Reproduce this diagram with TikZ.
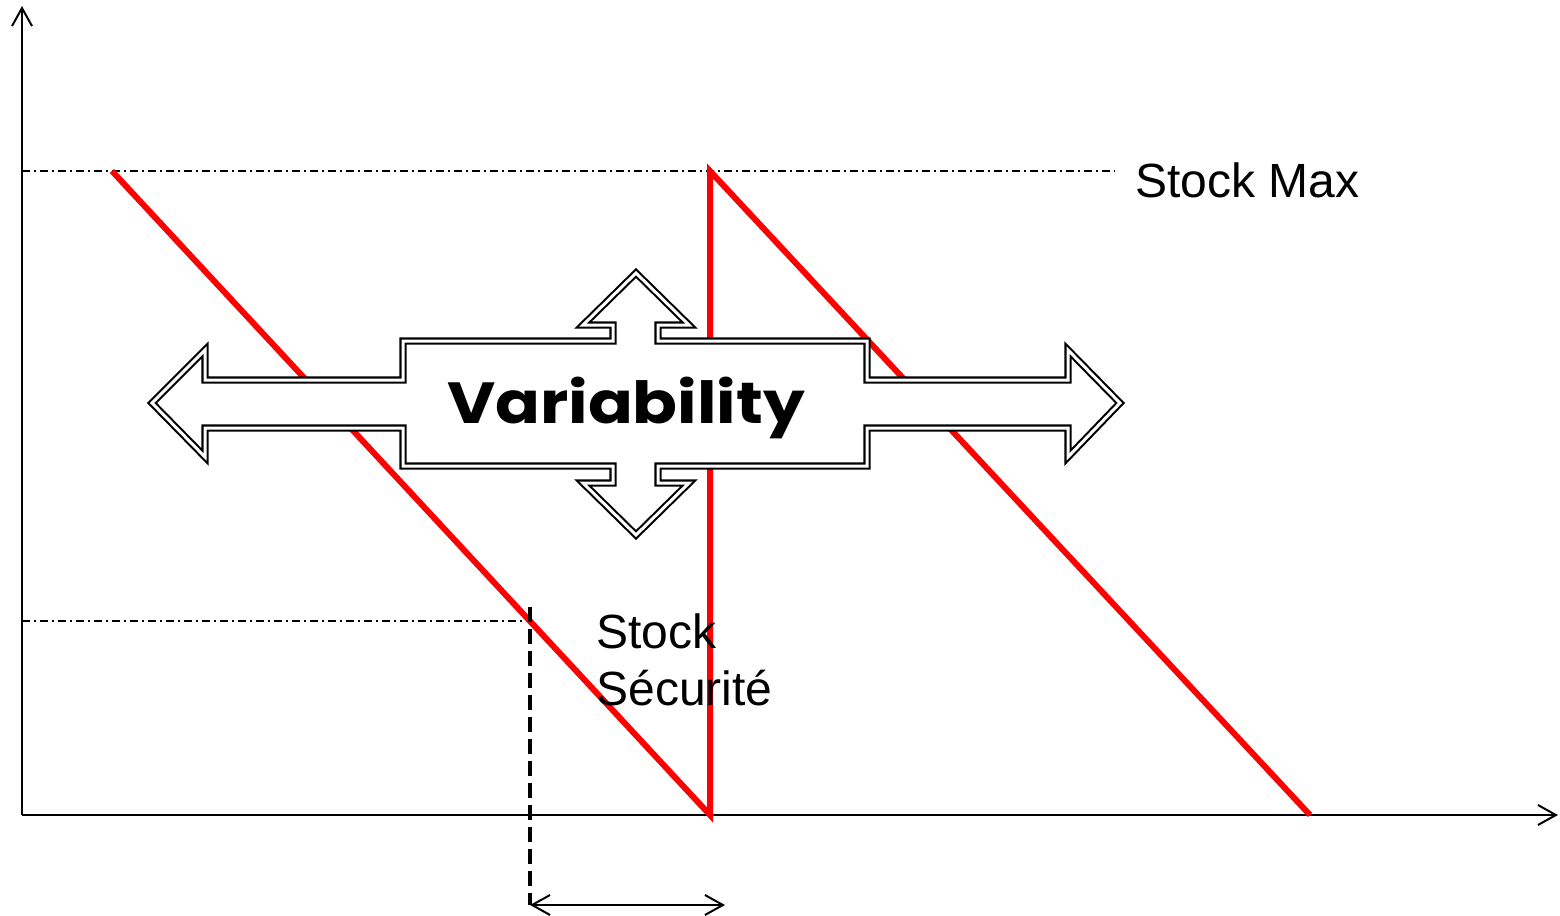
\documentclass[tikz,border=0pt]{standalone}
\usepackage{fontspec}
\setmainfont{Liberation Sans}
\newfontfamily\varfont{Poppins}
\usetikzlibrary{arrows.meta}
\begin{document}
\begin{tikzpicture}[x=0.5pt,y=-0.5pt,
  axisline/.style={line width=1pt,-{Straight Barb[length=9pt,width=10pt]}},
  guide/.style={line width=0.7pt,dash pattern=on 4pt off 2pt on 1pt off 2pt},
  stockline/.style={line width=3pt,red,line join=miter},
  bigarrow/.style={draw=black,fill=white,line width=1.05pt,double=white,double distance=1.5pt,line join=miter},
  lbl/.style={inner sep=0pt,anchor=base west,font=\fontsize{24pt}{29pt}\selectfont},
  dashv/.style={line width=2pt,dash pattern=on 7.5pt off 3.5pt},
  span/.style={line width=1pt,{Straight Barb[length=9pt,width=10pt]}-{Straight Barb[length=9pt,width=10pt]}}]
\useasboundingbox (0,0) rectangle (1560,916);
% coordinates
\coordinate (O) at (22,815);
\coordinate (Ytop) at (22,6);
\coordinate (Xend) at (1558,815);
\coordinate (MaxL) at (22,171);
\coordinate (MaxR) at (1115,171);
\coordinate (SecL) at (22,621);
\coordinate (SecR) at (530,621);
\coordinate (A) at (112,171);
\coordinate (B) at (710,815);
\coordinate (C) at (710,171);
\coordinate (D) at (1310,815);
\coordinate (Dtop) at (530,607);
\coordinate (Dbot) at (530,905);
\coordinate (Send) at (725,905);
% guides
\draw[guide] (MaxL) -- (MaxR);
\draw[guide] (SecL) -- (SecR);
% axes
\draw[axisline] (O) -- (Ytop);
\draw[axisline] (O) -- (Xend);
% stock curve
\draw[stockline] (A) -- (B) -- (C) -- (D);
% variability arrow
\draw[bigarrow] (152,403) -- (205,350) -- (205,380) -- (403,380) -- (403,341)
  -- (613,341) -- (613,325) -- (583,325) -- (636,273) -- (689,325) -- (658,325)
  -- (658,341) -- (867,341) -- (867,380) -- (1068,380) -- (1068,350) -- (1120,403)
  -- (1068,457) -- (1068,428) -- (867,428) -- (867,466) -- (658,466) -- (658,483)
  -- (689,483) -- (636,535) -- (583,483) -- (613,483) -- (613,466) -- (403,466)
  -- (403,428) -- (205,428) -- (205,457) -- cycle;
\node[inner sep=0pt,anchor=base,font=\varfont\bfseries\fontsize{29pt}{33pt}\selectfont] (var) at (626,423) {\scalebox{1.14}[1]{Variability}};
% security stock
\draw[dashv] (Dtop) -- (Dbot);
\draw[span] (Dbot) -- (Send);
% labels
\node[lbl] (smax) at (1135,197) {Stock Max};
\node[lbl] (s1) at (596,648) {Stock};
\node[lbl] (s2) at (596,705) {Sécurité};
\end{tikzpicture}
\end{document}
